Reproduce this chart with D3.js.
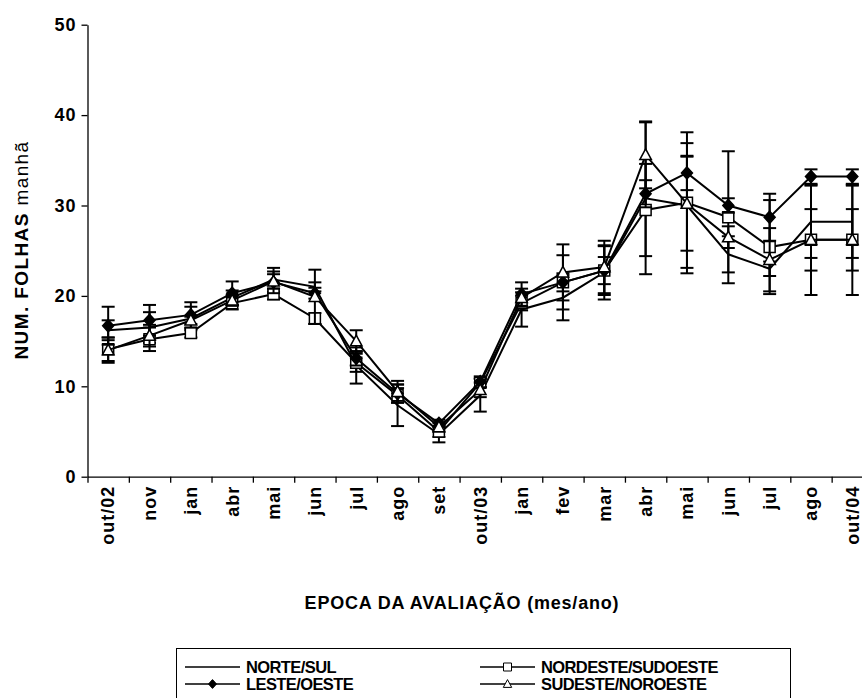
<!DOCTYPE html>
<html lang="pt">
<head>
<meta charset="UTF-8">
<title>NUM. FOLHAS manhã</title>
<style>
  body { margin: 0; padding: 0; background: #fff; }
  svg text { font-family: "Liberation Sans", Arial, sans-serif; font-weight: bold; fill: #000; }
</style>
</head>
<body>
<svg id="chart" width="862" height="698"></svg>

<script src="https://d3js.org/d3.v7.min.js"></script>
<script>
// categories (month of evaluation)
var months = ["out/02", "nov", "jan", "abr", "mai", "jun", "jul", "ago", "set", "out/03",
              "jan", "fev", "mar", "abr", "mai", "jun", "jul", "ago", "out/04"];

// means
var norteSul      = [16.2, 16.5, 17.5, 19.8, 21.8, 21.0, 12.3, 7.9, 4.7, 9.0, 18.5, 19.8, 22.6, 30.8, 30.0, 24.6, 23.0, 28.2, 28.2];
var nordesteSud   = [14.1, 15.2, 15.9, 19.2, 20.2, 17.5, 12.6, 9.0, 5.0, 10.4, 19.2, 21.5, 22.8, 29.5, 30.3, 28.7, 25.4, 26.2, 26.2];
var lesteOeste    = [16.7, 17.3, 17.9, 20.3, 21.5, 20.3, 13.1, 9.2, 5.9, 10.5, 20.2, 21.5, 22.8, 31.3, 33.6, 30.0, 28.7, 33.2, 33.2];
var sudesteNor    = [14.0, 15.6, 17.3, 19.5, 21.6, 19.9, 15.0, 9.4, 5.5, 9.6, 19.8, 22.6, 23.2, 35.6, 30.2, 26.5, 24.0, 26.2, 26.2];

// error bar half widths
var norteSulErr    = [1.1, 1.7, 1.3, 0.8, 1.3, 0.5, 2.0, 2.3, 0.9, 1.8, 1.9, 2.5, 3.0, 8.4, 6.9, 2.0, 0.8, 4.0, 4.0];
var nordesteSudErr = [1.3, 1.3, 0.5, 0.7, 0.6, 0.6, 1.0, 0.8, 0.6, 0.5, 0.8, 3.0, 1.5, 5.1, 7.8, 7.3, 5.2, 6.1, 6.1];
var lesteOesteErr  = [2.1, 1.7, 1.4, 1.3, 1.2, 0.6, 0.8, 1.0, 0.4, 0.6, 1.3, 1.0, 2.7, 1.5, 1.9, 0.8, 2.6, 0.8, 0.8];
var sudesteNorErr  = [1.4, 1.2, 0.4, 0.6, 0.8, 3.0, 1.2, 1.2, 0.5, 0.8, 1.0, 3.1, 2.9, 3.7, 5.2, 1.2, 3.5, 3.4, 3.4];

var yTicks = [0, 10, 20, 30, 40, 50];

var seriesNames = ["NORTE/SUL", "NORDESTE/SUDOESTE", "LESTE/OESTE", "SUDESTE/NOROESTE"];
var seriesMarks = ["none", "square", "diamond", "triangle"];

var series = [
  { name: seriesNames[0], marker: seriesMarks[0], values: norteSul,    err: norteSulErr },
  { name: seriesNames[1], marker: seriesMarks[1], values: nordesteSud, err: nordesteSudErr },
  { name: seriesNames[2], marker: seriesMarks[2], values: lesteOeste,  err: lesteOesteErr },
  { name: seriesNames[3], marker: seriesMarks[3], values: sudesteNor,  err: sudesteNorErr }
];

var svg = d3.select("#chart");

var plotLeft = 87.5, plotTop = 24.7, plotBottom = 476.7, plotRight = 873;

var x = d3.scaleBand().domain(d3.range(months.length)).range([plotLeft, plotRight]).padding(0);
var xEdge = d3.scaleLinear().domain([0, months.length]).range([plotLeft, plotRight]);
var y = d3.scaleLinear().domain([0, 50]).range([plotBottom, plotTop]);
var cx = function (i) { return x(i) + x.bandwidth() / 2; };

// marker shapes
function markerPath(type, s) {
  if (type === "diamond") return "M0," + (-s * 1.1) + "L" + s + ",0L0," + (s * 1.1) + "L" + (-s) + ",0Z";
  if (type === "square") return "M" + (-s) + "," + (-s) + "H" + s + "V" + s + "H" + (-s) + "Z";
  if (type === "triangle") return "M0," + (-s * 1.1) + "L" + (s * 1.05) + "," + (s * 0.85) + "L" + (-s * 1.05) + "," + (s * 0.85) + "Z";
  return null;
}

// y axis
var yAxis = svg.append("g")
  .attr("transform", "translate(" + plotLeft + ",0)")
  .call(d3.axisLeft(y).tickValues(yTicks).tickSize(6).tickSizeOuter(0).tickPadding(5));
yAxis.select(".domain").attr("stroke", "#000").attr("stroke-width", 1.3);
yAxis.selectAll(".tick line").attr("stroke", "#000").attr("stroke-width", 1.3);
yAxis.selectAll(".tick text")
  .style("font-size", "18px").style("font-weight", "bold")
  .attr("letter-spacing", "1px");

// x axis: boundary ticks
var xTickAxis = svg.append("g")
  .attr("transform", "translate(0," + plotBottom + ")")
  .call(d3.axisBottom(xEdge).tickValues(d3.range(months.length + 1)).tickSize(6).tickSizeOuter(0).tickFormat(""));
xTickAxis.select(".domain").attr("stroke", "#000").attr("stroke-width", 1.3);
xTickAxis.selectAll(".tick line").attr("stroke", "#000").attr("stroke-width", 1.3);

// x axis: rotated month labels
var xLabelAxis = svg.append("g")
  .attr("transform", "translate(0," + plotBottom + ")")
  .call(d3.axisBottom(x).tickSize(0).tickFormat(function (i) { return months[i]; }));
xLabelAxis.select(".domain").remove();
xLabelAxis.selectAll(".tick text")
  .style("font-size", "18px").style("font-weight", "bold")
  .attr("letter-spacing", "1px")
  .attr("text-anchor", "end")
  .attr("dy", "0.35em")
  .attr("transform", "translate(0,9) rotate(-90)")
  .attr("x", 0).attr("y", 0);

// axis titles
svg.append("text")
  .attr("x", 462).attr("y", 609)
  .attr("text-anchor", "middle")
  .style("font-size", "18px")
  .attr("letter-spacing", "0.8px")
  .text("EPOCA DA AVALIAÇÃO (mes/ano)");

var yTitle = svg.append("text")
  .attr("transform", "translate(28,250) rotate(-90)")
  .attr("text-anchor", "middle")
  .style("font-size", "19px")
  .attr("letter-spacing", "1.4px");
yTitle.append("tspan").text("NUM. FOLHAS ");
yTitle.append("tspan").style("font-weight", "normal").text("manhã");

// series
var line = d3.line().x(function (d, i) { return cx(i); }).y(function (d) { return y(d); });
var capW = 6.5;

series.forEach(function (s) {
  var g = svg.append("g");

  g.append("path")
    .datum(s.values)
    .attr("d", line)
    .attr("fill", "none")
    .attr("stroke", "#000")
    .attr("stroke-width", 2);

  var eb = g.selectAll(".err").data(s.values).enter().append("g");
  eb.append("line")
    .attr("x1", function (d, i) { return cx(i); })
    .attr("x2", function (d, i) { return cx(i); })
    .attr("y1", function (d, i) { return y(d + s.err[i]); })
    .attr("y2", function (d, i) { return y(d - s.err[i]); })
    .attr("stroke", "#000").attr("stroke-width", 2);
  eb.append("line")
    .attr("x1", function (d, i) { return cx(i) - capW; })
    .attr("x2", function (d, i) { return cx(i) + capW; })
    .attr("y1", function (d, i) { return y(d + s.err[i]); })
    .attr("y2", function (d, i) { return y(d + s.err[i]); })
    .attr("stroke", "#000").attr("stroke-width", 2);
  eb.append("line")
    .attr("x1", function (d, i) { return cx(i) - capW; })
    .attr("x2", function (d, i) { return cx(i) + capW; })
    .attr("y1", function (d, i) { return y(d - s.err[i]); })
    .attr("y2", function (d, i) { return y(d - s.err[i]); })
    .attr("stroke", "#000").attr("stroke-width", 2);

  if (s.marker !== "none") {
    g.selectAll(".mk").data(s.values).enter().append("path")
      .attr("transform", function (d, i) { return "translate(" + cx(i) + "," + y(d) + ")"; })
      .attr("d", markerPath(s.marker, 5.5))
      .attr("fill", s.marker === "diamond" ? "#000" : "#fff")
      .attr("stroke", "#000")
      .attr("stroke-width", 1.5);
  }
});

// legend
var legend = svg.append("g");
legend.append("rect")
  .attr("x", 176.5).attr("y", 648.5)
  .attr("width", 614).attr("height", 60)
  .attr("fill", "#fff").attr("stroke", "#000").attr("stroke-width", 1);

var legendPos = [[185, 667], [480, 667], [185, 684], [480, 684]];
legendPos.forEach(function (p, k) {
  var s = series[k];
  legend.append("line")
    .attr("x1", p[0]).attr("x2", p[0] + 55)
    .attr("y1", p[1]).attr("y2", p[1])
    .attr("stroke", "#000").attr("stroke-width", 1.5);
  if (s.marker !== "none") {
    legend.append("path")
      .attr("transform", "translate(" + (p[0] + 27.5) + "," + p[1] + ")")
      .attr("d", markerPath(s.marker, 4))
      .attr("fill", s.marker === "diamond" ? "#000" : "#fff")
      .attr("stroke", "#000").attr("stroke-width", 1);
  }
  legend.append("text")
    .attr("x", p[0] + 61).attr("y", p[1])
    .attr("dy", "0.36em")
    .style("font-size", "16.5px")
    .attr("letter-spacing", "-0.6px")
    .text(s.name);
});
</script>
</body>
</html>
